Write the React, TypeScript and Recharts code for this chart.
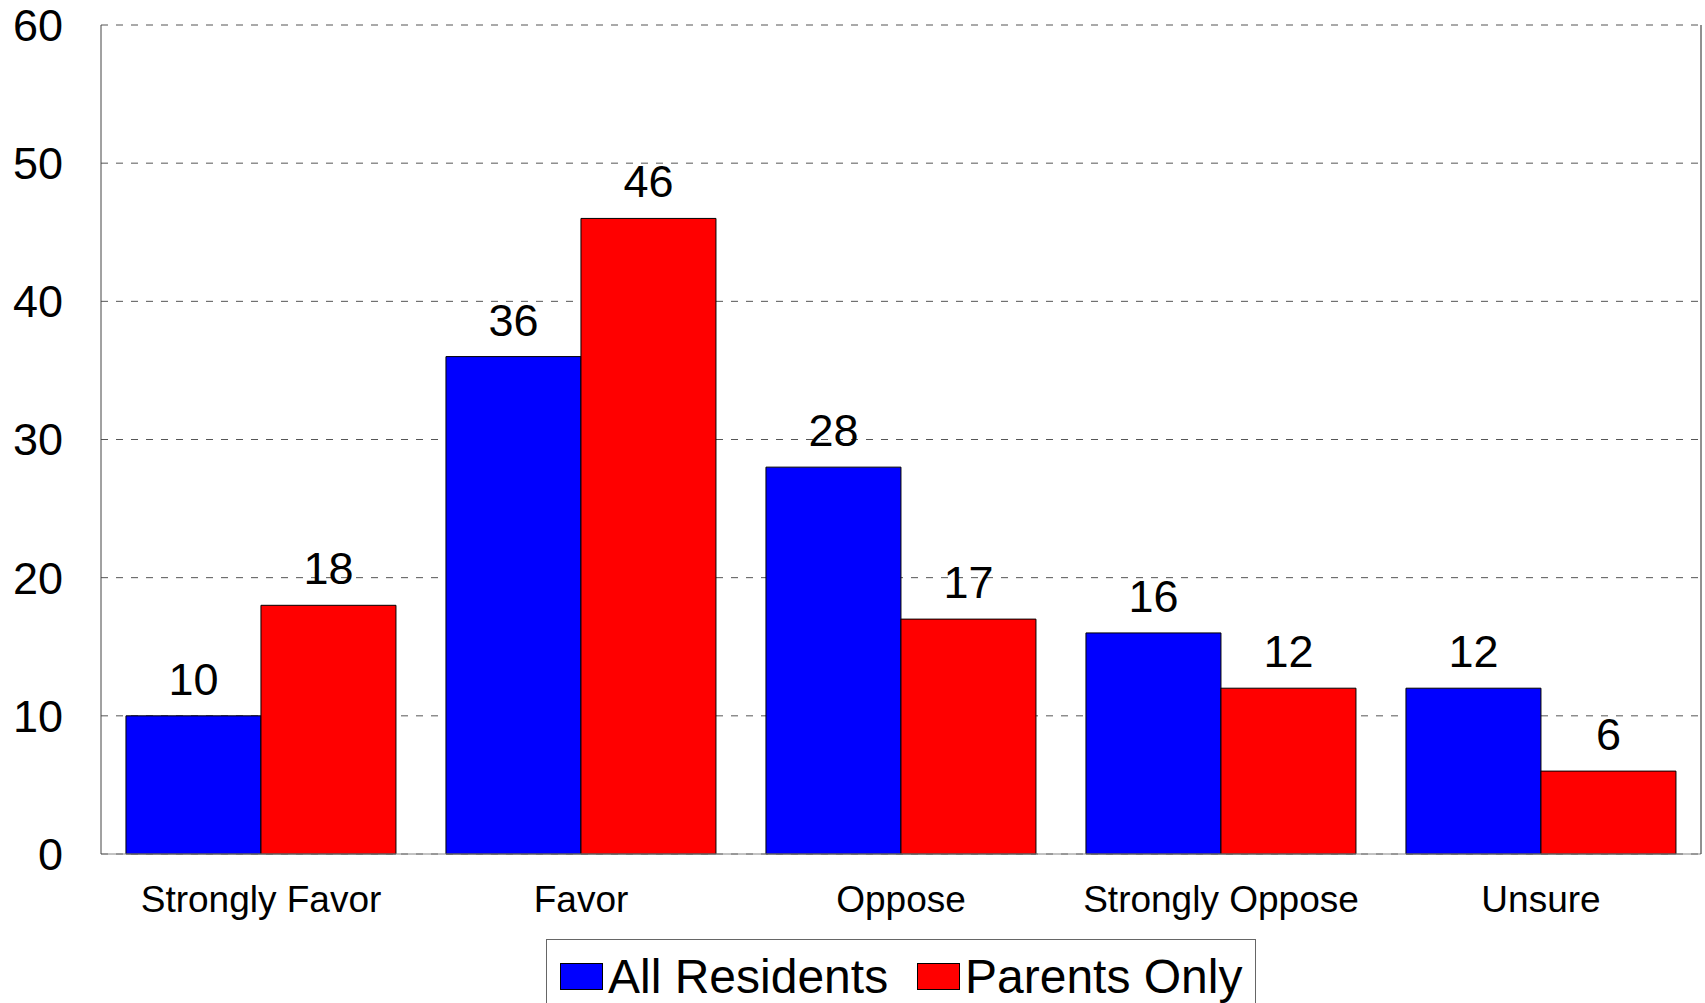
import React from "react";
import { BarChart, Bar, XAxis, YAxis, CartesianGrid, LabelList, Legend } from "recharts";

const categories = ["Strongly Favor", "Favor", "Oppose", "Strongly Oppose", "Unsure"];
const allResidents = [10, 36, 28, 16, 12];
const parentsOnly = [18, 46, 17, 12, 6];
const yTicks = [0, 10, 20, 30, 40, 50, 60];
const seriesNames = ["All Residents", "Parents Only"];
const seriesColors = ["#0000FF", "#FF0000"];

const data = categories.map((c, i) => ({
  name: c,
  all: allResidents[i],
  parents: parentsOnly[i],
}));

const FONT = "'Liberation Sans', Arial, Helvetica, sans-serif";

const LegendBox = () => (
  <div
    style={{
      width: 710,
      height: 90,
      border: "1px solid #666",
      boxSizing: "border-box",
      background: "#fff",
      fontFamily: FONT,
      fontSize: 48,
      color: "#000",
      position: "relative",
    }}
  >
    {seriesNames.map((n, i) => (
      <div
        key={n}
        style={{
          position: "absolute",
          left: i === 0 ? 13 : 370,
          top: 0,
          display: "flex",
          alignItems: "center",
          height: 72,
          whiteSpace: "nowrap",
        }}
      >
        <span
          style={{
            display: "inline-block",
            width: 43,
            height: 27,
            background: seriesColors[i],
            border: "1px solid #000",
            boxSizing: "border-box",
            marginRight: 5,
          }}
        />
        <span style={{ lineHeight: "48px", position: "relative", top: 1 }}>{n}</span>
      </div>
    ))}
  </div>
);

export default function App() {
  return (
    <div style={{ position: "fixed", left: 0, top: 0, width: 1705, height: 1003, overflow: "hidden", background: "#fff" }}>
      <BarChart
        width={1705}
        height={1003}
        data={data}
        margin={{ top: 25, right: 3, bottom: 89, left: 0 }}
        barCategoryGap="7.8%"
        barGap={0}
      >
        <CartesianGrid yAxisId="l" vertical={false} stroke="#555" strokeDasharray="7 8" />
        <XAxis
          dataKey="name"
          height={60}
          tickSize={0}
          tickMargin={32}
          axisLine={{ stroke: "#888" }}
          tickLine={false}
          tick={{ fontSize: 37, fill: "#000", fontFamily: FONT }}
          interval={0}
        />
        <YAxis
          yAxisId="l"
          width={101}
          domain={[0, 60]}
          ticks={yTicks}
          tickSize={0}
          tickMargin={38}
          axisLine={{ stroke: "#444" }}
          tickLine={false}
          tick={{ fontSize: 45, fill: "#000", fontFamily: FONT }}
          interval={0}
        />
        <YAxis
          yAxisId="r"
          orientation="right"
          width={1}
          domain={[0, 60]}
          ticks={yTicks}
          tick={false}
          tickLine={false}
          axisLine={{ stroke: "#222" }}
        />
        <Legend
          layout="horizontal"
          verticalAlign="middle"
          align="center"
          wrapperStyle={{ position: "absolute", left: 546, top: 939, width: 710 }}
          content={() => <LegendBox />}
        />
        <Bar yAxisId="l" dataKey="all" name={seriesNames[0]} fill={seriesColors[0]} stroke="#000" strokeWidth={1} isAnimationActive={false}>
          <LabelList dataKey="all" position="top" offset={21} style={{ fontSize: 45, fill: "#000", fontFamily: FONT }} />
        </Bar>
        <Bar yAxisId="l" dataKey="parents" name={seriesNames[1]} fill={seriesColors[1]} stroke="#000" strokeWidth={1} isAnimationActive={false}>
          <LabelList dataKey="parents" position="top" offset={21} style={{ fontSize: 45, fill: "#000", fontFamily: FONT }} />
        </Bar>
      </BarChart>
    </div>
  );
}
